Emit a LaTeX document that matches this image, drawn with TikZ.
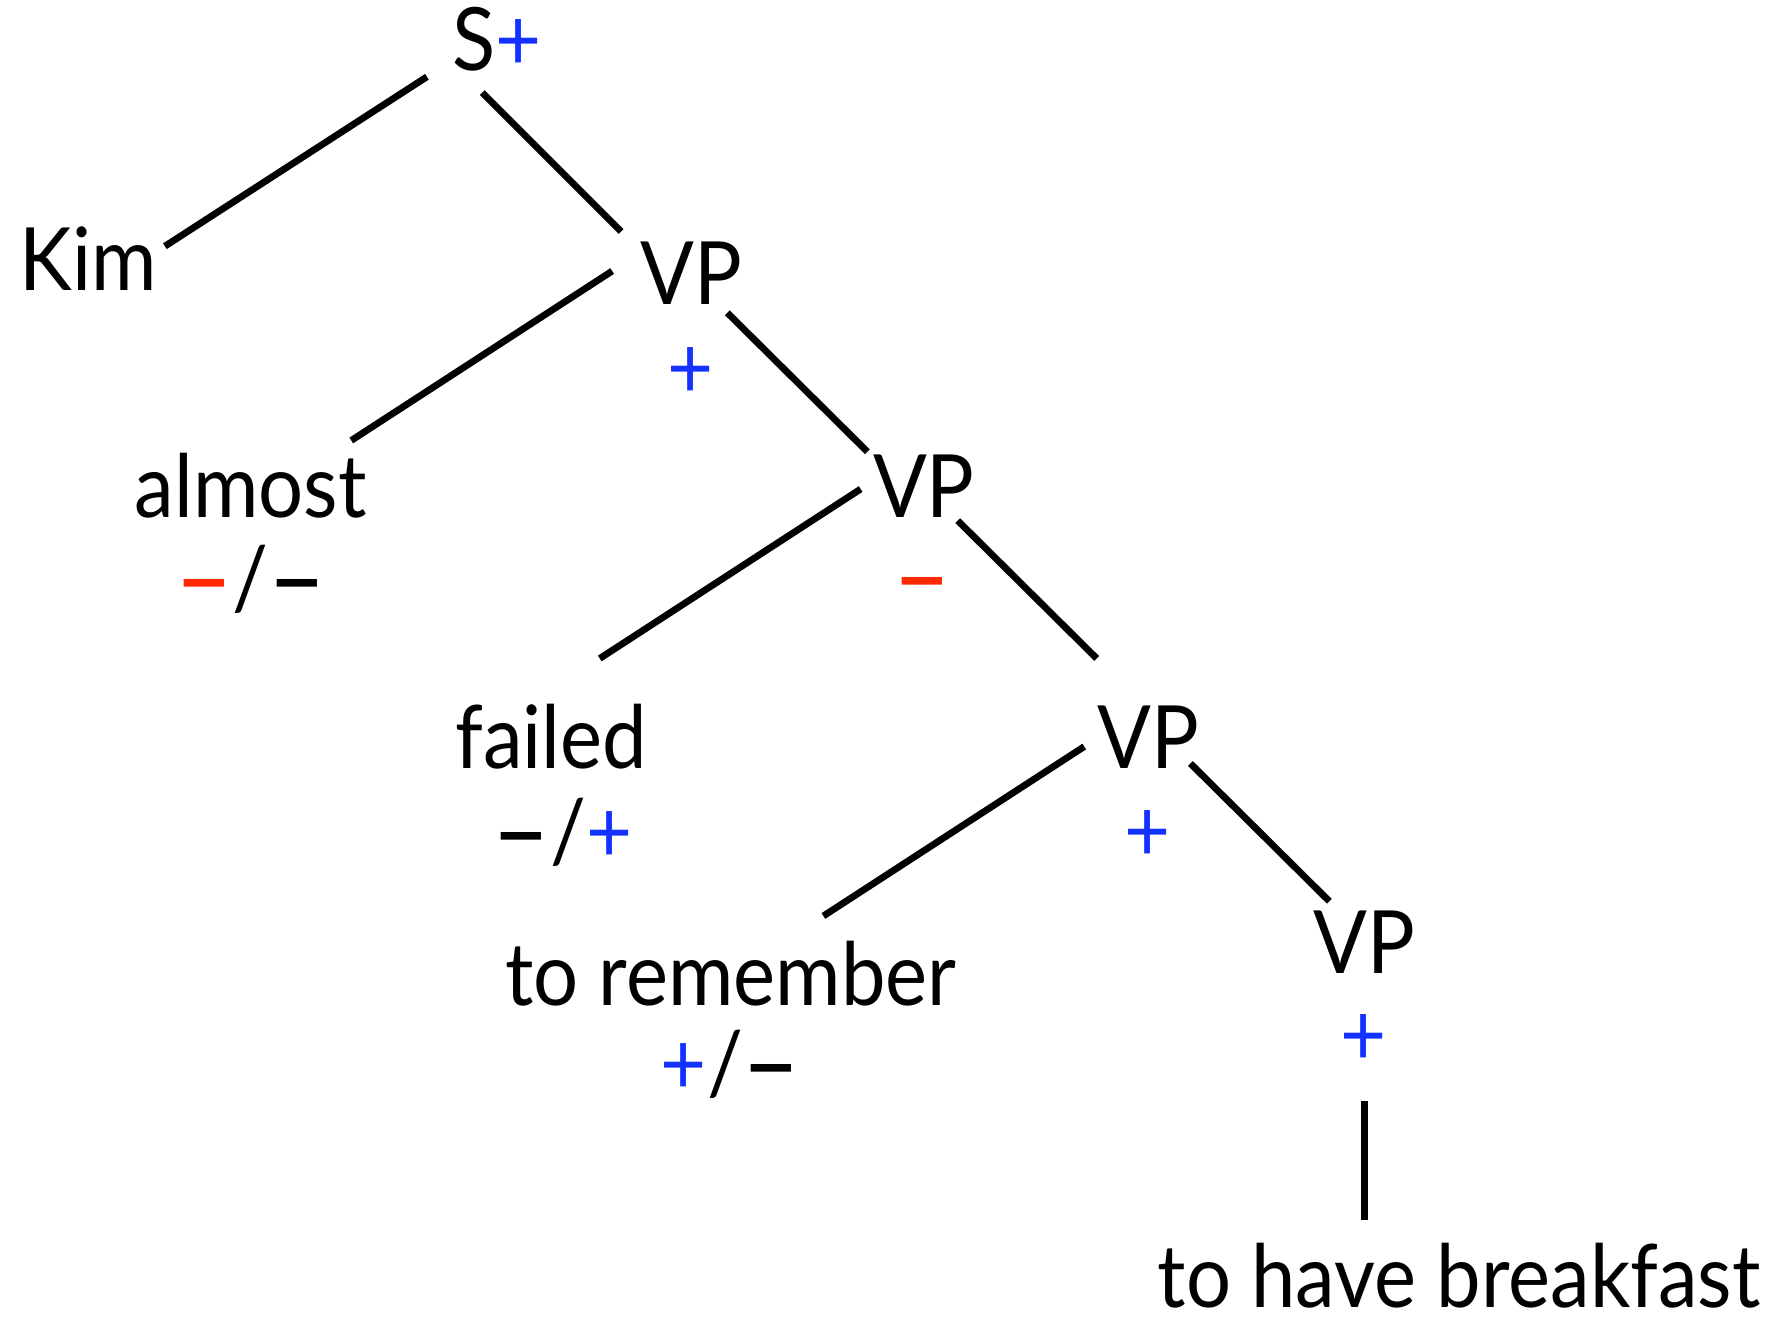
\documentclass[tikz,border=0pt]{standalone}
\usepackage{fontspec}
\usepackage{graphicx}
\setmainfont{Lato}[FakeStretch=0.91]
\definecolor{signblue}{RGB}{20,50,255}
\definecolor{signred}{RGB}{255,40,0}
\newcommand{\pl}{\textcolor{signblue}{+}}
\newcommand{\dashsign}{\scalebox{1.25}[1]{\textbf{–}}}
\newcommand{\mi}{\textcolor{black}{\dashsign}}
\newcommand{\rmi}{\textcolor{signred}{\dashsign}}
\begin{document}
\begin{tikzpicture}[x=0.01cm,y=-0.01cm,
  word/.style={anchor=base,inner sep=0pt,font=\fontsize{22}{26}\selectfont},
  sign/.style={anchor=base,inner sep=0pt,font=\fontsize{22}{26}\selectfont},
  branch/.style={line width=0.06cm}]
\useasboundingbox[fill=white] (0,0) rectangle (1568,1167);

% categories and words
\node[word] (S)   at (440,62)   {S\pl};
\node[word] (kim) at (78,257)   {Kim};
\node[word] (vp1) at (612,270)  {VP};
\node[word] (alm) at (222,458)  {almost};
\node[word] (vp2) at (818,458)  {VP};
\node[word] (fai) at (488,680)  {failed};
\node[word] (vp3) at (1017,680) {VP};
\node[word] (rem) at (647,890)  {to remember};
\node[word] (vp4) at (1208,862) {VP};
\node[word] (brk) at (1292,1158){to have breakfast};

% polarity marks
\node[sign] (p1) at (611,353)  {\pl};
\node[sign] (p2) at (222,540)  {\rmi/\mi};
\node[sign] (p3) at (817,538)  {\rmi};
\node[sign] (p4) at (498,764)  {\mi/\pl};
\node[sign] (p5) at (1016,763) {\pl};
\node[sign] (p6) at (647,969)  {\pl/\mi};
\node[sign] (p7) at (1207,943) {\pl};

% branches
\draw[branch] ([shift={(-62,6)}]S.base)    -- ([shift={(68,-39)}]kim.base);
\draw[branch] ([shift={(-13,20)}]S.base)   -- ([shift={(-62,-65)}]vp1.base);
\draw[branch] ([shift={(-70,-30)}]vp1.base) -- ([shift={(89,-68)}]alm.base);
\draw[branch] ([shift={(32,7)}]vp1.base)   -- ([shift={(-50,-58)}]vp2.base);
\draw[branch] ([shift={(-56,-25)}]vp2.base) -- ([shift={(43,-97)}]fai.base);
\draw[branch] ([shift={(30,3)}]vp2.base)   -- ([shift={(-46,-97)}]vp3.base);
\draw[branch] ([shift={(-57,-19)}]vp3.base) -- ([shift={(82,-79)}]rem.base);
\draw[branch] ([shift={(37,-4)}]vp3.base)  -- ([shift={(-31,-64)}]vp4.base);
\draw[branch] ([shift={(0,113)}]vp4.base)  -- ([shift={(-84,-78)}]brk.base);
\end{tikzpicture}
\end{document}
